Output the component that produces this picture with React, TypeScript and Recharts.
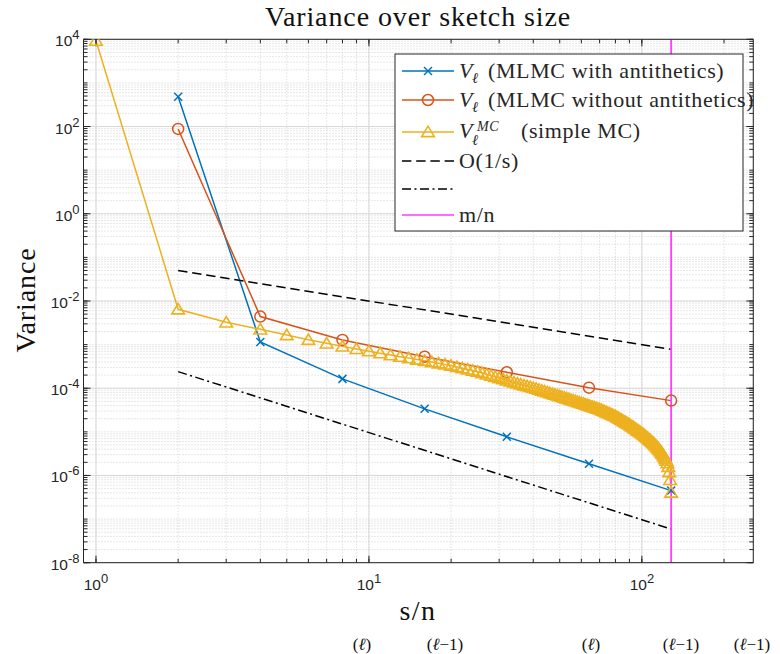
import React from 'react';
import { LineChart, Line, XAxis, YAxis, CartesianGrid, ReferenceLine } from 'recharts';

// ---------- data ----------
const ANTI_X = [2, 4, 8, 16, 32, 64, 128];
const ANTI_V = [480, 1.15e-3, 1.64e-4, 3.37e-5, 7.7e-6, 1.85e-6, 4.5e-7];

const PLAIN_X = [2, 4, 8, 16, 32, 64, 128];
const PLAIN_V = [88, 4.4e-3, 1.28e-3, 5.3e-4, 2.32e-4, 1.03e-4, 5.2e-5];

const MC_X = [
  1, 2, 3, 4, 5, 6, 7, 8, 9, 10, 11, 12, 13, 14, 15, 16, 17, 18, 19, 20,
  21, 22, 23, 24, 25, 26, 27, 28, 29, 30, 31, 32, 33, 34, 35, 36, 37, 38, 39, 40,
  41, 42, 43, 44, 45, 46, 47, 48, 49, 50, 51, 52, 53, 54, 55, 56, 57, 58, 59, 60,
  61, 62, 63, 64, 65, 66, 67, 68, 69, 70, 71, 72, 73, 74, 75, 76, 77, 78, 79, 80,
  81, 82, 83, 84, 85, 86, 87, 88, 89, 90, 91, 92, 93, 94, 95, 96, 97, 98, 99, 100,
  101, 102, 103, 104, 105, 106, 107, 108, 109, 110, 111, 112, 113, 114, 115, 116, 117, 118, 119, 120,
  121, 122, 123, 124, 125, 126, 127, 128,
];
const MC_V = [
  9300, 6.46e-3, 3.24e-3, 2.24e-3, 1.66e-3, 1.29e-3, 1.07e-3, 9.12e-4, 7.98e-4, 7.08e-4,
  6.35e-4, 5.75e-4, 5.3e-4, 4.9e-4, 4.56e-4, 4.27e-4, 3.98e-4, 3.73e-4, 3.51e-4, 3.31e-4,
  3.08e-4, 2.88e-4, 2.7e-4, 2.55e-4, 2.4e-4, 2.23e-4, 2.08e-4, 1.94e-4, 1.82e-4, 1.71e-4,
  1.61e-4, 1.51e-4, 1.43e-4, 1.36e-4, 1.29e-4, 1.23e-4, 1.17e-4, 1.12e-4, 1.07e-4, 1.02e-4,
  9.75e-5, 9.3e-5, 8.88e-5, 8.49e-5, 8.12e-5, 7.78e-5, 7.46e-5, 7.16e-5, 6.87e-5, 6.61e-5,
  6.35e-5, 6.11e-5, 5.88e-5, 5.65e-5, 5.45e-5, 5.26e-5, 5.07e-5, 4.9e-5, 4.73e-5, 4.57e-5,
  4.42e-5, 4.27e-5, 4.13e-5, 3.99e-5, 3.86e-5, 3.75e-5, 3.63e-5, 3.52e-5, 3.41e-5, 3.31e-5,
  3.18e-5, 3.06e-5, 2.95e-5, 2.84e-5, 2.73e-5, 2.64e-5, 2.55e-5, 2.45e-5, 2.37e-5, 2.29e-5,
  2.19e-5, 2.09e-5, 2.0e-5, 1.91e-5, 1.83e-5, 1.75e-5, 1.68e-5, 1.61e-5, 1.54e-5, 1.48e-5,
  1.41e-5, 1.34e-5, 1.28e-5, 1.22e-5, 1.17e-5, 1.11e-5, 1.07e-5, 1.02e-5, 9.75e-6, 9.33e-6,
  8.87e-6, 8.42e-6, 8.02e-6, 7.62e-6, 7.24e-6, 6.89e-6, 6.54e-6, 6.22e-6, 5.92e-6, 5.62e-6,
  5.3e-6, 4.98e-6, 4.69e-6, 4.43e-6, 4.17e-6, 3.88e-6, 3.62e-6, 3.38e-6, 3.16e-6, 2.88e-6,
  2.63e-6, 2.4e-6, 2.19e-6, 1.91e-6, 1.58e-6, 1.2e-6, 7.94e-7, 4.07e-7,
];

const O1_X = [2, 128];
const O1_V = [0.05, 7.8e-4];
const O2_X = [2, 128];
const O2_V = [2.4e-4, 5.9e-8];
const M_OVER_N = 128;

// ---------- axes ----------
const X_DOMAIN = [0.9, 256];
const Y_DOMAIN = [1e-8, 1e4];
const X_MAJOR = [1, 10, 100];
const X_LABELS = ['0', '1', '2'];
const Y_MAJOR = [1e-8, 1e-6, 1e-4, 1e-2, 1, 1e2, 1e4];
const Y_LABELS = ['-8', '-6', '-4', '-2', '0', '2', '4'];
const STEPS = [1, 2, 3, 4, 5, 6, 7, 8, 9];
const X_DECADES = [1, 10, 100];
const Y_DECADES = [1e-8, 1e-7, 1e-6, 1e-5, 1e-4, 1e-3, 1e-2, 1e-1, 1, 10, 100, 1000];
const X_MINOR = X_DECADES.flatMap((d) => STEPS.map((k) => k * d)).filter(
  (v) => v >= X_DOMAIN[0] && v <= X_DOMAIN[1]
);
const Y_MINOR = [...Y_DECADES.flatMap((d) => STEPS.map((k) => k * d)), 1e4];

// ---------- legend ----------
const LEGEND_LABELS = [
  '(MLMC with antithetics)',
  '(MLMC without antithetics)',
  '(simple MC)',
  'O(1/s)',
  '',
  'm/n',
];

const BLUE = '#0072BD';
const ORANGE = '#D95319';
const YELLOW = '#EDB120';
const MAGENTA = '#FF3DFF';
const INK = '#262626';
const SERIF = '"Liberation Serif", "Times New Roman", serif';
const SANS = '"Liberation Sans", Arial, Helvetica, sans-serif';

const zip = (xs: number[], vs: number[]) => xs.map((x, i) => ({ x, v: vs[i] }));
const antiData = zip(ANTI_X, ANTI_V);
const plainData = zip(PLAIN_X, PLAIN_V);
const mcData = zip(MC_X, MC_V);
const o1Data = zip(O1_X, O1_V);
const o2Data = zip(O2_X, O2_V);

// ---------- markers ----------
const CrossShape = ({ cx, cy, color }: any) => {
  const s = 4;
  return (
    <g>
      <line x1={cx - s} y1={cy - s} x2={cx + s} y2={cy + s} stroke={color} strokeWidth={1.5} />
      <line x1={cx - s} y1={cy + s} x2={cx + s} y2={cy - s} stroke={color} strokeWidth={1.5} />
    </g>
  );
};
const CircleShape = ({ cx, cy, color }: any) => (
  <circle cx={cx} cy={cy} r={5.5} fill="none" stroke={color} strokeWidth={1.5} />
);
const TriShape = ({ cx, cy, color }: any) => (
  <polygon
    points={`${cx},${cy - 5.8} ${cx - 6.3},${cy + 4.6} ${cx + 6.3},${cy + 4.6}`}
    fill="none"
    stroke={color}
    strokeWidth={1.6}
    strokeLinejoin="miter"
  />
);

const dotOf = (Shape: any, color: string, tag: string) => (p: any) => {
  if (p == null || p.cx == null || p.cy == null) return <g key={`${tag}-${p?.index}`} />;
  return (
    <g key={`${tag}-${p.index}`}>
      <Shape cx={p.cx} cy={p.cy} color={color} />
    </g>
  );
};

// ---------- tick labels ----------
const XTick = (props: any) => {
  const { x, y, payload } = props;
  const idx = X_MAJOR.findIndex((t) => Math.abs(Math.log10(t) - Math.log10(payload.value)) < 1e-6);
  return (
    <text x={x} y={y + 27} textAnchor="middle" fontFamily={SANS} fontSize={15.5} fill={INK}>
      <tspan>10</tspan>
      <tspan dy={-7} fontSize={13}>
        {X_LABELS[idx]}
      </tspan>
    </text>
  );
};
const YTick = (props: any) => {
  const { x, y, payload } = props;
  const idx = Y_MAJOR.findIndex((t) => Math.abs(Math.log10(t) - Math.log10(payload.value)) < 1e-6);
  return (
    <text x={x} y={y + 7} textAnchor="end" fontFamily={SANS} fontSize={15.5} fill={INK}>
      <tspan>10</tspan>
      <tspan dy={-7} fontSize={13}>
        {Y_LABELS[idx]}
      </tspan>
    </text>
  );
};
const EmptyTick = () => <g />;

const logX = { type: 'number' as const, scale: 'log' as const, domain: X_DOMAIN, allowDataOverflow: true, dataKey: 'x' };
const logY = { type: 'number' as const, scale: 'log' as const, domain: Y_DOMAIN, allowDataOverflow: true };

// ---------- overlay (titles, legend) ----------
const Overlay = () => {
  const rows = [71, 100, 132, 161, 189, 215];
  const lx1 = 402;
  const lx2 = 454;
  const mx = 428;
  const tx = 459;
  return (
    <svg
      width={780}
      height={654}
      style={{ position: 'absolute', left: 0, top: 0, pointerEvents: 'none' }}
    >
      <text x={418} y={26} textAnchor="middle" fontFamily={SERIF} fontSize={28} letterSpacing={0.9} fill="#111">
        Variance over sketch size
      </text>
      <text
        x={0}
        y={0}
        transform="translate(35,300) rotate(-90)"
        textAnchor="middle"
        fontFamily={SERIF}
        fontSize={28}
        letterSpacing={0.9}
        fill="#111"
      >
        Variance
      </text>
      <text x={418} y={620} textAnchor="middle" fontFamily={SERIF} fontSize={28} letterSpacing={1.5} fill="#111">
        s/n
      </text>

      {/* caption fragments along the bottom edge */}
      <g fontFamily={SERIF} fontSize={17} fill="#111">
        <text x={362} y={650} textAnchor="middle">(<tspan fontStyle="italic">ℓ</tspan>)</text>
        <text x={445} y={650} textAnchor="middle">(<tspan fontStyle="italic">ℓ</tspan>−1)</text>
        <text x={591} y={650} textAnchor="middle">(<tspan fontStyle="italic">ℓ</tspan>)</text>
        <text x={681} y={650} textAnchor="middle">(<tspan fontStyle="italic">ℓ</tspan>−1)</text>
        <text x={752} y={650} textAnchor="middle">(<tspan fontStyle="italic">ℓ</tspan>−1)</text>
      </g>

      {/* legend */}
      <rect x={395} y={54} width={348} height={177} fill="#fff" stroke={INK} strokeWidth={1} />
      <line x1={lx1} y1={rows[0]} x2={lx2} y2={rows[0]} stroke={BLUE} strokeWidth={1.5} />
      <CrossShape cx={mx} cy={rows[0]} color={BLUE} />
      <line x1={lx1} y1={rows[1]} x2={lx2} y2={rows[1]} stroke={ORANGE} strokeWidth={1.5} />
      <CircleShape cx={mx} cy={rows[1]} color={ORANGE} />
      <line x1={lx1} y1={rows[2]} x2={lx2} y2={rows[2]} stroke={YELLOW} strokeWidth={1.5} />
      <TriShape cx={mx} cy={rows[2]} color={YELLOW} />
      <line x1={lx1} y1={rows[3]} x2={lx2} y2={rows[3]} stroke="#000" strokeWidth={1.5} strokeDasharray="9.4 4.8" />
      <line x1={lx1} y1={rows[4]} x2={lx2} y2={rows[4]} stroke="#000" strokeWidth={1.5} strokeDasharray="9 3.5 2 3.5" />
      <line x1={lx1} y1={rows[5]} x2={lx2} y2={rows[5]} stroke={MAGENTA} strokeWidth={1.5} />

      <g fontFamily={SERIF} fill={INK} fontSize={22} letterSpacing={0.6}>
        {[0, 1].map((i) => (
          <g key={i}>
            <text x={tx} y={rows[i] + 7} fontStyle="italic">V</text>
            <text x={472} y={rows[i] + 12} fontStyle="italic" fontSize={15}>ℓ</text>
            <text x={488} y={rows[i] + 7}>{LEGEND_LABELS[i]}</text>
          </g>
        ))}
        <text x={tx} y={rows[2] + 6} fontStyle="italic">V</text>
        <text x={472} y={rows[2] + 13} fontStyle="italic" fontSize={15}>ℓ</text>
        <text x={477} y={rows[2] - 1} fontStyle="italic" fontSize={14}>MC</text>
        <text x={521} y={rows[2] + 6}>{LEGEND_LABELS[2]}</text>
        <text x={tx} y={rows[3] + 7}>{LEGEND_LABELS[3]}</text>
        <text x={tx} y={rows[4] + 7}>{LEGEND_LABELS[4]}</text>
        <text x={tx} y={rows[5] + 7}>{LEGEND_LABELS[5]}</text>
      </g>
    </svg>
  );
};

export default function App() {
  return (
    <div style={{ position: 'absolute', left: 0, top: 0, width: 780, height: 654, background: '#fff' }}>
      <LineChart
        width={780}
        height={654}
        margin={{ top: 39.3, right: 26.7, bottom: 61.3, left: 0 }}
      >
        {/* main axes with labels */}
        <XAxis
          xAxisId="x"
          {...logX}
          orientation="bottom"
          height={30}
          ticks={X_MAJOR}
          tick={<XTick />}
          tickLine={false}
          tickSize={0}
          tickMargin={0}
          axisLine={{ stroke: INK, strokeWidth: 1 }}
          interval={0}
        />
        <YAxis
          yAxisId="y"
          {...logY}
          orientation="left"
          width={83.5}
          ticks={Y_MAJOR}
          tick={<YTick />}
          tickLine={false}
          tickSize={0}
          tickMargin={4}
          axisLine={{ stroke: INK, strokeWidth: 1 }}
          interval={0}
        />
        {/* inward tick marks (mirrored helper axes) */}
        <XAxis xAxisId="xMinB" {...logX} orientation="bottom" mirror height={0.01} ticks={X_MINOR} tick={<EmptyTick />} tickSize={4} axisLine={false} tickLine={{ stroke: INK }} interval={0} />
        <XAxis xAxisId="xMajB" {...logX} orientation="bottom" mirror height={0.01} ticks={X_MAJOR} tick={<EmptyTick />} tickSize={7} axisLine={false} tickLine={{ stroke: INK }} interval={0} />
        <XAxis xAxisId="xMinT" {...logX} orientation="top" mirror height={0.01} ticks={X_MINOR} tick={<EmptyTick />} tickSize={4} axisLine={{ stroke: INK }} tickLine={{ stroke: INK }} interval={0} />
        <XAxis xAxisId="xMajT" {...logX} orientation="top" mirror height={0.01} ticks={X_MAJOR} tick={<EmptyTick />} tickSize={7} axisLine={false} tickLine={{ stroke: INK }} interval={0} />
        <YAxis yAxisId="yMinL" {...logY} orientation="left" mirror width={0.01} ticks={Y_MINOR} tick={<EmptyTick />} tickSize={4} axisLine={false} tickLine={{ stroke: INK }} interval={0} />
        <YAxis yAxisId="yMajL" {...logY} orientation="left" mirror width={0.01} ticks={Y_MAJOR} tick={<EmptyTick />} tickSize={7} axisLine={false} tickLine={{ stroke: INK }} interval={0} />
        <YAxis yAxisId="yMinR" {...logY} orientation="right" mirror width={0.01} ticks={Y_MINOR} tick={<EmptyTick />} tickSize={4} axisLine={{ stroke: INK }} tickLine={{ stroke: INK }} interval={0} />
        <YAxis yAxisId="yMajR" {...logY} orientation="right" mirror width={0.01} ticks={Y_MAJOR} tick={<EmptyTick />} tickSize={7} axisLine={false} tickLine={{ stroke: INK }} interval={0} />

        {/* minor (dotted) grid */}
        {X_MINOR.map((v) => (
          <ReferenceLine key={`gx${v}`} xAxisId="x" yAxisId="y" x={v} stroke="#cfcfcf" strokeDasharray="1 2" strokeWidth={1} />
        ))}
        {Y_MINOR.map((v) => (
          <ReferenceLine key={`gy${v}`} xAxisId="x" yAxisId="y" y={v} stroke="#cfcfcf" strokeDasharray="1 2" strokeWidth={1} />
        ))}
        <CartesianGrid xAxisId="x" yAxisId="y" stroke="#dcdcdc" />

        <Line xAxisId="x" yAxisId="y" data={antiData} dataKey="v" type="linear" stroke={BLUE} strokeWidth={1.5}
          dot={dotOf(CrossShape, BLUE, 'a')} activeDot={false} isAnimationActive={false} />
        <Line xAxisId="x" yAxisId="y" data={plainData} dataKey="v" type="linear" stroke={ORANGE} strokeWidth={1.5}
          dot={dotOf(CircleShape, ORANGE, 'p')} activeDot={false} isAnimationActive={false} />
        <Line xAxisId="x" yAxisId="y" data={mcData} dataKey="v" type="linear" stroke={YELLOW} strokeWidth={1.5}
          dot={dotOf(TriShape, YELLOW, 'm')} activeDot={false} isAnimationActive={false} />
        <Line xAxisId="x" yAxisId="y" data={o1Data} dataKey="v" type="linear" stroke="#000" strokeWidth={1.5}
          strokeDasharray="9.4 4.8" dot={false} activeDot={false} isAnimationActive={false} />
        <Line xAxisId="x" yAxisId="y" data={o2Data} dataKey="v" type="linear" stroke="#000" strokeWidth={1.5}
          strokeDasharray="9 3.5 2 3.5" dot={false} activeDot={false} isAnimationActive={false} />
        <ReferenceLine xAxisId="x" yAxisId="y" x={M_OVER_N} stroke={MAGENTA} strokeWidth={1.8} />
      </LineChart>
      <Overlay />
    </div>
  );
}
